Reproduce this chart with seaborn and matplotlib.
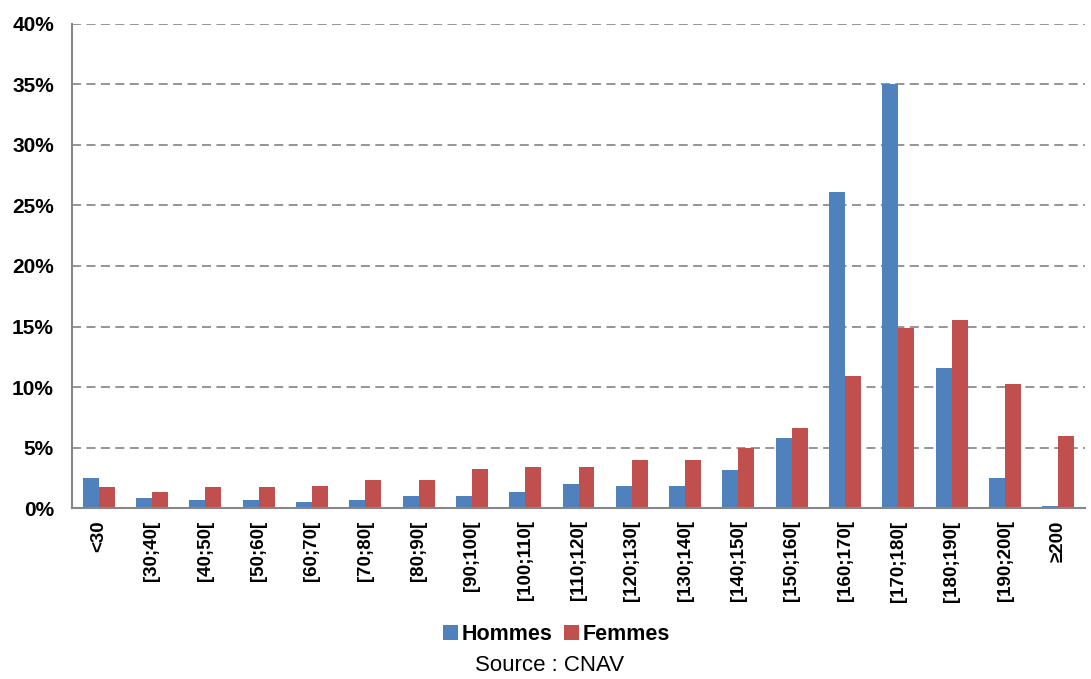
import pandas as pd
import matplotlib.pyplot as plt
import seaborn as sns
from matplotlib.ticker import FuncFormatter, FixedLocator

tranches = ['<30', '[30;40[', '[40;50[', '[50;60[', '[60;70[', '[70;80[', '[80;90[',
            '[90;100[', '[100;110[', '[110;120[', '[120;130[', '[130;140[', '[140;150[',
            '[150;160[', '[160;170[', '[170;180[', '[180;190[', '[190;200[', '≥200']
hommes = [2.5, 0.85, 0.7, 0.7, 0.5, 0.7, 1.0, 1.0, 1.35, 2.0, 1.85, 1.85, 3.15,
          5.8, 26.1, 35.05, 11.6, 2.5, 0.2]
femmes = [1.7, 1.35, 1.7, 1.7, 1.85, 2.35, 2.35, 3.2, 3.35, 3.35, 4.0, 4.0, 4.95,
          6.6, 10.9, 14.9, 15.55, 10.25, 5.95]

df = pd.DataFrame({
    'tranche': tranches * 2,
    'part': hommes + femmes,
    'sexe': ['Hommes'] * len(tranches) + ['Femmes'] * len(tranches),
})

sns.set_style('white')
plt.rcParams['font.family'] = ['Liberation Sans', 'DejaVu Sans']
plt.rcParams['text.color'] = 'black'
plt.rcParams['xtick.labelcolor'] = 'black'
plt.rcParams['ytick.labelcolor'] = 'black'

fig = plt.figure(figsize=(10.91, 6.79), dpi=100)
ax = fig.add_axes([0.066, 0.2518, 0.9285, 0.7129])

sns.barplot(data=df, x='tranche', y='part', hue='sexe', order=tranches,
            palette={'Hommes': '#4F81BD', 'Femmes': '#C0504D'}, saturation=1,
            width=0.6, linewidth=0, ax=ax, legend=True)

ax.set_ylim(0, 40)
ax.set_xlim(-0.5, len(tranches) - 0.5)
ax.set_yticks(range(0, 41, 5))
ax.yaxis.set_major_formatter(FuncFormatter(lambda v, p: f'{int(v)}%'))
ax.set_xlabel('')
ax.set_ylabel('')

for y in range(5, 41, 5):
    ax.axhline(y, color='#8c8c8c', linestyle=(0, (5, 3)), linewidth=1.3, zorder=0)

for side in ['top', 'right']:
    ax.spines[side].set_visible(False)
for side in ['left', 'bottom']:
    ax.spines[side].set_color('#878787')
    ax.spines[side].set_linewidth(1.5)

ax.tick_params(axis='y', which='major', direction='out', length=5, width=1.2,
               color='#878787', labelsize=15, pad=8)
ax.tick_params(axis='x', which='major', length=0, labelsize=13.5, pad=9, labelrotation=90)
ax.xaxis.set_minor_locator(FixedLocator([i + 0.5 for i in range(-1, len(tranches))]))
ax.tick_params(axis='x', which='minor', direction='out', length=5, width=1.2, color='#878787')
for lbl in ax.get_xticklabels() + ax.get_yticklabels():
    lbl.set_fontweight('bold')

handles, labels = ax.get_legend_handles_labels()
ax.get_legend().remove()
fig.legend(handles, labels, loc='center', bbox_to_anchor=(0.51, 0.066), ncol=2,
           frameon=False, handlelength=0.7, handleheight=0.7, handletextpad=0.2,
           columnspacing=0.5, prop={'weight': 'bold', 'size': 15.5})
fig.text(0.504, 0.02, 'Source : CNAV', ha='center', va='center', fontsize=16)

fig.savefig('out.png', dpi=100)
